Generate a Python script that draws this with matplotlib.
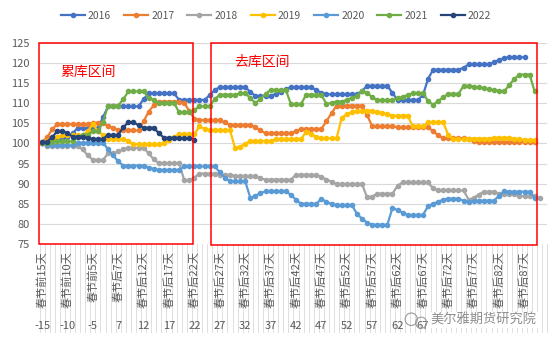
import numpy as np
import matplotlib
matplotlib.use('Agg')
import matplotlib.pyplot as plt
import matplotlib.transforms as mtransforms
from matplotlib.patches import Rectangle, Ellipse

plt.rcParams['font.family'] = ['Noto Sans CJK SC', 'DejaVu Sans']

# categories: days before / after Spring Festival
days = list(range(-15, 0)) + list(range(7, 92))

years = ['2016', '2017', '2018', '2019', '2020', '2021', '2022']
colors = ['#4472C4', '#ED7D31', '#A5A5A5', '#FFC000', '#5B9BD5', '#70AD47', '#264478']

s2016 = ([100.2, 100.3, 100.5, 101.0, 101.2, 101.5, 102.5] + [103.8] * 5 + [106.5] + [109.2] * 7
         + [111.0] + [112.4] * 6 + [110.8] * 6 + [112.0, 113.2] + [114.0] * 6 + [112.8]
         + [111.8] * 4 + [112.3, 112.8, 113.4] + [114.0] * 5 + [113.2, 112.6] + [112.2] * 7
         + [113.0] + [114.3] * 5 + [112.5] + [110.8] * 5 + [112.0, 116.0] + [118.3] * 6
         + [118.8] + [119.6] * 5 + [120.2, 120.7, 121.2] + [121.4] * 4 + [None] * 4)

s2017 = ([100.3, 101.5, 103.5] + [104.8] * 7 + [105.1] * 3 + [104.3, 103.8, 103.4] + [103.2] * 4
         + [105.5, 107.9, 109.5] + [110.4] * 5 + [110.0, 108.0, 106.1] + [105.8] * 5 + [105.2]
         + [104.6] * 5 + [104.0, 103.2] + [102.5] * 6 + [103.0] + [103.6] * 5 + [105.5, 107.5]
         + [109.4] * 6 + [107.0] + [104.3] * 5 + [104.0] * 7 + [103.0, 102.0] + [101.3] * 5
         + [101.0, 100.7] + [100.4] * 12 + [None] * 2)

s2018 = ([100.2] + [99.3] * 7 + [98.5, 97.0] + [95.9] * 3 + [97.5] * 2 + [98.0, 98.5] + [98.9] * 4
         + [97.5, 96.0] + [95.1] * 5 + [90.8] * 2 + [91.5] + [92.5] * 4 + [92.2] * 3 + [91.8] * 5
         + [91.3] + [91.0] * 6 + [92.2] * 5 + [91.7, 91.0, 90.5] + [89.9] * 6 + [86.6, 86.8]
         + [87.5] * 4 + [89.5] + [90.3] * 6 + [88.8] + [88.3] * 6 + [86.0, 86.5, 87.3]
         + [88.0] * 3 + [87.5] * 4 + [86.9] * 4 + [86.4] + [None])

s2019 = ([100.2, 100.5, 101.0, 101.5] + [102.0] * 5 + [103.0, 104.8, 103.0, 102.0] + [101.1] * 4
         + [100.5] + [99.8] * 6 + [100.0, 100.8, 101.5] + [102.3] * 4 + [104.2, 103.6]
         + [103.3] * 5 + [98.8, 99.2, 99.9] + [100.6] * 5 + [101.0] * 6 + [102.9, 102.3, 101.6]
         + [101.25] * 4 + [106.4, 107.2, 107.7] + [108.1] * 4 + [107.8, 107.5, 107.2]
         + [106.9] * 4 + [104.2] * 3 + [105.25] * 4 + [102.0] + [101.0] * 3 + [101.2] * 5
         + [101.4] * 4 + [101.2, 101.0, 100.9] + [100.75] * 2 + [None] * 2)

s2020 = ([100.2] + [99.5] * 6 + [100.2] * 6 + [98.5, 97.0, 95.5] + [94.5] * 5 + [94.0, 93.6]
         + [93.4] * 5 + [94.3] * 7 + [92.8, 91.5] + [90.6] * 4 + [86.5, 87.0, 87.6] + [88.1] * 5
         + [87.2, 86.0] + [85.0] * 4 + [86.2, 85.5, 84.9] + [84.7] * 4 + [82.5, 81.3, 80.3]
         + [79.8] * 4 + [84.0, 83.4, 82.8] + [82.2] * 4 + [84.4, 85.0, 85.5, 86.0] + [86.3] * 3
         + [85.7, 85.4, 85.6] + [85.8] * 4 + [87.0, 88.1, 88.0] + [88.0] * 4 + [86.5] + [None] * 2)

s2021 = ([100.2, 100.2, 100.3] + [100.5] * 4 + [101.5] + [102.2] * 2 + [103.0] * 2 + [105.3]
         + [109.4] * 3 + [111.0] + [112.9] * 4 + [111.3, 110.8] + [110.0] * 4 + [107.7] * 3
         + [108.3] + [109.2] * 3 + [111.0] + [112.1] * 4 + [112.4] * 2
         + [111.3, 110.0, 111.0, 112.3] + [113.3] * 4 + [109.75] * 3 + [112.1] * 4
         + [109.75, 110.1] + [110.4] * 2 + [110.8, 111.3, 111.7, 113.1, 112.5, 111.5]
         + [110.7] * 4 + [111.2, 111.6, 112.0] + [112.5] * 3 + [110.5, 109.6, 110.5, 111.5]
         + [112.3] * 3 + [114.3] * 2 + [114.1, 113.9, 113.7, 113.4, 113.2, 113.0, 112.9]
         + [114.5, 116.0] + [117.1] * 3 + [112.9] + [None] * 2)

s2022 = ([100.3, 100.4, 101.5, 103.1, 103.1, 102.5, 101.7, 101.7, 101.7, 101.4, 101.1, 101.1,
          101.1, 102.1, 102.1, 102.1, 104.0, 105.25, 105.25, 104.5, 103.9, 103.9, 103.9, 102.5,
          101.4, 101.4, 101.4, 101.4, 101.25, 101.25, 100.9] + [None] * 69)

series = [s2016, s2017, s2018, s2019, s2020, s2021, s2022]

fig = plt.figure(figsize=(5.52, 3.47), dpi=100)
ax = fig.add_axes([0.0716, 0.2968, 0.920, 0.580])

x = np.arange(len(days))
for yr, col, s in zip(years, colors, series):
    y = np.array([np.nan if v is None else v for v in s], dtype=float)
    ax.plot(x, y, color=col, lw=1.6, marker='o', ms=3.0, label=yr, zorder=3)

ax.set_xlim(-0.5, len(days) - 0.5)
ax.set_ylim(75, 125)
ax.set_yticks(range(75, 126, 5))
ax.tick_params(axis='y', length=0, pad=7, labelsize=8, labelcolor='#595959')
ax.set_xticks([])
ax.grid(axis='y', color='#D9D9D9', lw=0.8, zorder=0)
for sp in ax.spines.values():
    sp.set_visible(False)

# two-level category labels
trans = mtransforms.blended_transform_factory(ax.transData, ax.transAxes)
for b in np.arange(-0.5, len(days), 1.0):
    ax.plot([b, b], [0, -0.437], transform=trans, color='#D9D9D9', lw=0.6,
            clip_on=False, zorder=0)
for i in range(0, len(days), 5):
    d = days[i]
    lab = f'春节前{-d}天' if d < 0 else f'春节后{d}天'
    ax.text(i, -0.035, lab, transform=trans, rotation=90, ha='center', va='top',
            fontsize=8, color='#595959')
    # the last few numbers sit under the watermark in the original
    if d < 70:
        ax.text(i, -0.405, str(d), transform=trans, ha='center', va='center',
                fontsize=8, color='#595959')

# stock build / draw intervals
ax.add_patch(Rectangle((-0.7, 75), 30.5, 49.9, fill=False, ec='#FF0000', lw=1.1,
                       clip_on=False, zorder=4))
ax.add_patch(Rectangle((33.2, 74.8), 64.2, 50.1, fill=False, ec='#FF0000', lw=1.1,
                       clip_on=False, zorder=4))
ax.text(9.0, 117.7, '累库区间', color='#FF0000', fontsize=10, ha='center', va='center')
ax.text(43.4, 120.2, '去库区间', color='#FF0000', fontsize=10, ha='center', va='center')

fig.legend(loc='center', bbox_to_anchor=(0.5, 0.954), ncol=7, frameon=False,
           fontsize=7.5, handlelength=2.3, handletextpad=0.3, columnspacing=1.25,
           labelcolor='#595959')

# watermark
fig.patches.append(Ellipse((0.745, 0.080), 0.022, 0.036, transform=fig.transFigure,
                           fill=False, ec='#9a9a9a', lw=0.8))
fig.patches.append(Ellipse((0.763, 0.070), 0.020, 0.032, transform=fig.transFigure,
                           fill=False, ec='#9a9a9a', lw=0.8))
fig.text(0.876, 0.078, '美尔雅期货研究院', fontsize=9.5, color='#808080',
         ha='center', va='center', alpha=0.9,
         bbox=dict(boxstyle='square,pad=0.1', fc='white', ec='none'))

fig.savefig('out.png', dpi=100)
